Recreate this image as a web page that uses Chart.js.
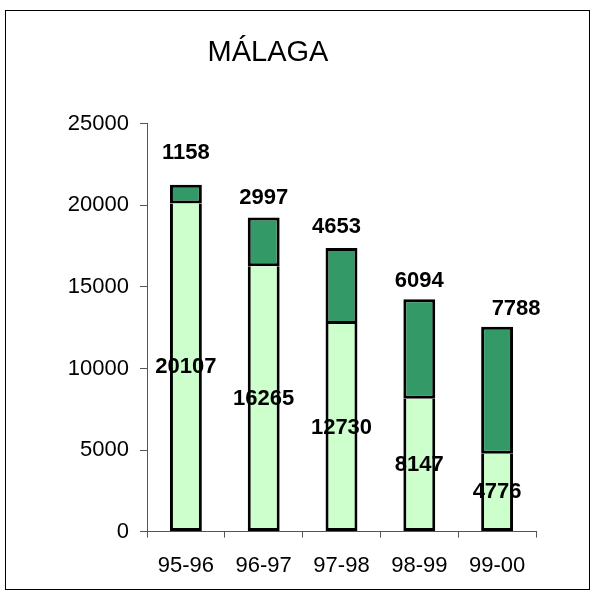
<!DOCTYPE html>
<html>
<head>
<meta charset="utf-8">
<script src="https://cdn.jsdelivr.net/npm/chart.js@4/dist/chart.umd.min.js"></script>
<style>
  html, body { margin: 0; padding: 0; background: #fff; }
  #wrap { width: 594px; height: 596px; }
</style>
</head>
<body>
<div id="wrap"><canvas id="malagaChart" width="594" height="596"></canvas></div>
<script>
const seasons = ['95-96', '96-97', '97-98', '98-99', '99-00'];
const lowerValues = [20107, 16265, 12730, 8147, 4776];
const upperValues = [1158, 2997, 4653, 6094, 7788];
const yTicks = [0, 5000, 10000, 15000, 20000, 25000];

// label nudges for the top values (pixels), as placed in the original
const topLabelDx = [0, 0, -5, 0, 19];
const topLabelDy = [-32, -19, -21, -18, -18];

const FONT = '"Liberation Sans", Arial, sans-serif';

const frame = {
    id: 'frame',
    beforeDraw(chart) {
        const ctx = chart.ctx;
        ctx.save();
        ctx.fillStyle = '#fff';
        ctx.fillRect(0, 0, chart.width, chart.height);
        ctx.strokeStyle = '#000';
        ctx.lineWidth = 1;
        ctx.strokeRect(5.5, 10.5, 584, 579);
        ctx.restore();
    }
};

const valueLabels = {
    id: 'valueLabels',
    afterDatasetsDraw(chart) {
        const ctx = chart.ctx;
        ctx.save();
        ctx.font = 'bold 22px ' + FONT;
        ctx.fillStyle = '#000';
        ctx.textAlign = 'center';
        ctx.textBaseline = 'middle';
        chart.getDatasetMeta(0).data.forEach((bar, i) => {
            ctx.fillText(String(lowerValues[i]), bar.x, (bar.y + bar.base) / 2);
        });
        chart.getDatasetMeta(1).data.forEach((bar, i) => {
            ctx.fillText(String(upperValues[i]), bar.x + topLabelDx[i], bar.y + topLabelDy[i]);
        });
        ctx.restore();
    }
};

const ctx = document.getElementById('malagaChart').getContext('2d');
new Chart(ctx, {
    type: 'bar',
    data: {
        labels: seasons,
        datasets: [{
            data: lowerValues,
            backgroundColor: '#ccffcc',
            borderColor: '#000',
            borderWidth: 3,
            borderSkipped: 'top', // the dark segment's bottom edge draws the join
            inflateAmount: 0,
            categoryPercentage: 1,
            barPercentage: 0.41
        }, {
            data: upperValues,
            backgroundColor: '#339966',
            borderColor: '#000',
            borderWidth: 3,
            borderSkipped: false,
            inflateAmount: 0,
            categoryPercentage: 1,
            barPercentage: 0.41
        }]
    },
    options: {
        responsive: false,
        animation: false,
        devicePixelRatio: 1,
        layout: { padding: { top: 10, right: 58, bottom: 2, left: 0 } },
        plugins: {
            legend: { display: false },
            tooltip: { enabled: false },
            title: {
                display: true,
                text: 'MÁLAGA',
                color: '#000',
                font: { family: FONT, size: 29, weight: 'normal' },
                padding: { top: 26, bottom: 53 }
            }
        },
        scales: {
            x: {
                stacked: true,
                grid: { drawOnChartArea: false, drawTicks: true, tickLength: 6, color: '#555', offset: true },
                border: { color: '#555', width: 1 },
                ticks: {
                    color: '#000',
                    padding: 15,
                    font: { family: FONT, size: 22 }
                }
            },
            y: {
                stacked: true,
                min: 0,
                max: 25000,
                afterBuildTicks(axis) {
                    axis.ticks = yTicks.map(v => ({ value: v }));
                },
                afterFit(axis) {
                    axis.width = 147;
                },
                grid: { drawOnChartArea: false, drawTicks: true, tickLength: 7, color: '#555' },
                border: { color: '#555', width: 1 },
                ticks: {
                    color: '#000',
                    padding: 11,
                    font: { family: FONT, size: 22 },
                    callback: value => String(value)
                }
            }
        }
    },
    plugins: [frame, valueLabels]
});
</script>
</body>
</html>
